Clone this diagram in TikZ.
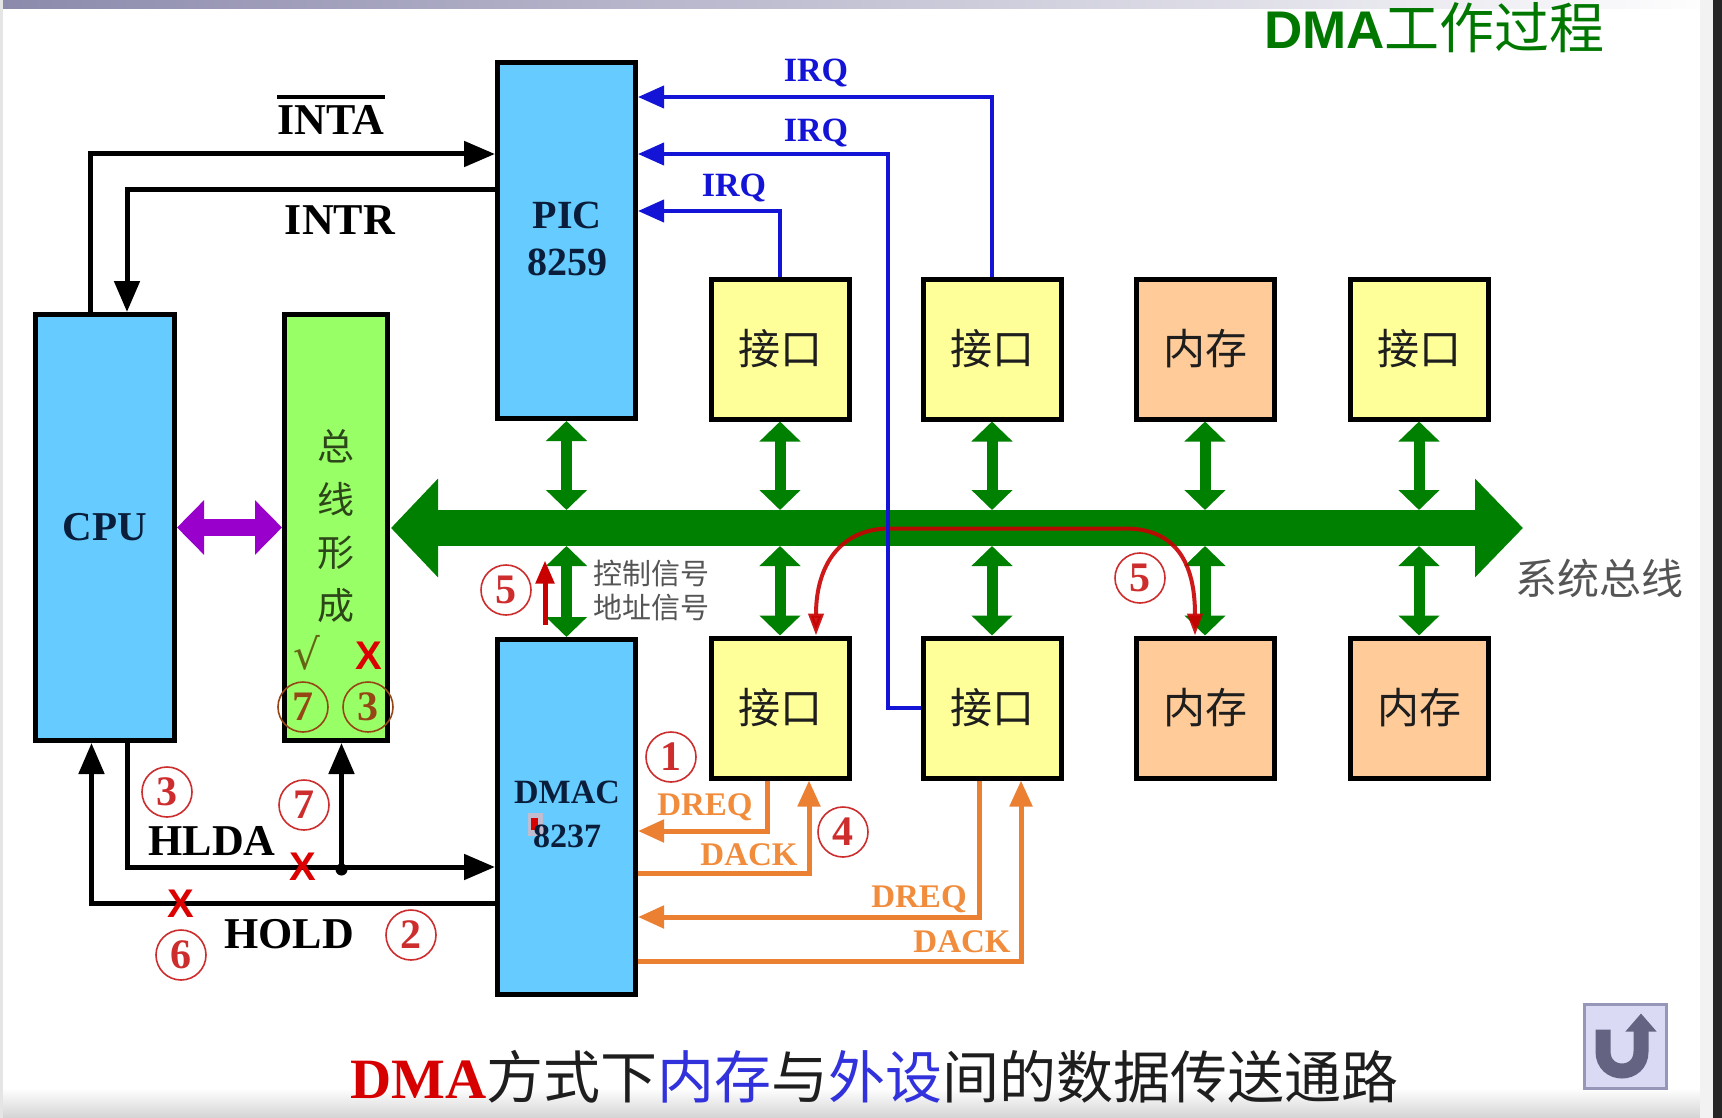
\documentclass[tikz,border=0pt]{standalone}
\usepackage{fontspec}
\setmainfont{Liberation Serif}
\newfontfamily\cjk{Noto Sans CJK SC}
\newfontfamily\sansf{Liberation Sans}
\newfontfamily\djv{DejaVu Sans}
\usetikzlibrary{arrows.meta,calc}
\newcommand\myfs[1]{\fontsize{#1}{#1}\selectfont}
\definecolor{boxblue}{RGB}{102,204,255}
\definecolor{boxgreen}{RGB}{153,255,102}
\definecolor{boxyellow}{RGB}{255,255,153}
\definecolor{boxpeach}{RGB}{255,204,153}
\definecolor{busgreen}{RGB}{0,128,0}
\definecolor{irqblue}{RGB}{20,20,215}
\definecolor{orangeline}{RGB}{236,128,50}
\definecolor{orangetext}{RGB}{240,140,60}
\definecolor{numred}{RGB}{205,45,45}
\definecolor{oliver}{RGB}{150,70,20}
\definecolor{olivechk}{RGB}{100,100,20}
\definecolor{purplearrow}{RGB}{153,0,204}
\definecolor{titlegreen}{RGB}{0,120,0}
\definecolor{navy}{RGB}{10,30,60}
\definecolor{grntext}{RGB}{45,70,25}
\definecolor{curvered}{RGB}{200,0,0}
\definecolor{xred}{RGB}{220,0,0}
\definecolor{capred}{RGB}{215,0,0}
\definecolor{capblue}{RGB}{50,50,220}
\definecolor{captext}{RGB}{30,30,30}
\definecolor{graytext}{RGB}{85,85,85}
\begin{document}
\begin{tikzpicture}[x=1pt,y=-1pt,
  bx/.style={draw=black, line width=5pt, inner sep=0pt},
  lbl/.style={inner sep=0pt, anchor=base},
  blk/.style={line width=5pt, draw=black, -{Triangle[length=31pt,width=25pt]}},
  blu/.style={line width=4pt, draw=irqblue, -{Triangle[length=26pt,width=22pt]}},
  org/.style={line width=5pt, draw=orangeline, -{Triangle[length=26pt,width=22pt]}},
  gar/.style={line width=11pt, draw=busgreen, {Triangle[length=20pt,width=40pt]}-{Triangle[length=20pt,width=40pt]}},
  cn/.style={circle, draw=numred, line width=1.6pt, text=numred, inner sep=0pt, minimum size=50pt, font=\bfseries\myfs{42}},
  xm/.style={inner sep=0pt, text=xred, font=\sansf\bfseries\myfs{40}},
  cjkbox/.style={bx, minimum width=138pt, minimum height=140pt, font=\cjk\myfs{42}, text=captext},
]
\useasboundingbox (0,0) rectangle (1722,1118);
% screen frame
\fill[white] (0,0) rectangle (1722,1118);
\shade[left color={rgb,255:red,140;green,138;blue,172}, right color=white] (0,0) rectangle (1722,9);
\shade[top color=white, bottom color={rgb,255:red,212;green,212;blue,212}] (0,1088) rectangle (1722,1118);
\fill[gray!20] (0,0) rectangle (3,1118);
\fill[gray!10] (1700,0) rectangle (1713,1118);
\fill[black!85] (1713,0) rectangle (1722,1118);

% title
\node[anchor=base west, inner sep=0pt, text=titlegreen, font=\cjk\myfs{55}] (title) at (1264,49) {{\sansf\bfseries\myfs{53}DMA}工作过程};

% boxes
\node[bx, fill=boxblue, minimum width=138pt, minimum height=356pt] (pic) at (566.5,240.5) {};
\node[bx, fill=boxblue, minimum width=139pt, minimum height=426pt] (cpu) at (105,527.5) {};
\node[bx, fill=boxgreen, minimum width=103pt, minimum height=426pt] (grn) at (336,527.5) {};
\node[bx, fill=boxblue, minimum width=138pt, minimum height=355pt] (dmac) at (566.5,817) {};
\node[cjkbox, fill=boxyellow] (t1) at (780,349) {接口};
\node[cjkbox, fill=boxyellow] (t2) at (992,349) {接口};
\node[cjkbox, fill=boxpeach] (t3) at (1205,349) {内存};
\node[cjkbox, fill=boxyellow] (t4) at (1419,349) {接口};
\node[cjkbox, fill=boxyellow] (b1) at (780,708) {接口};
\node[cjkbox, fill=boxyellow] (b2) at (992,708) {接口};
\node[cjkbox, fill=boxpeach] (b3) at (1205,708) {内存};
\node[cjkbox, fill=boxpeach] (b4) at (1419,708) {内存};

% box labels
\node[lbl, font=\bfseries\myfs{40}, text=navy] (piclbl) at (567,229) {PIC};
\node[lbl, font=\bfseries\myfs{40}, text=navy] (picnum) at (567,276) {8259};
\node[lbl, font=\bfseries\myfs{41}, text=navy] (cpulbl) at (105,540) {CPU};
\fill[red!30, opacity=0.6] (528,813) rectangle (543,836);
\fill[red!85!black] (531,818) rectangle (538,830);
\node[lbl, font=\bfseries\myfs{34}, text=navy] (dmaclbl) at (567,803) {DMAC};
\node[lbl, font=\bfseries\myfs{34}, text=navy] (dmacnum) at (567,847) {8237};
\node[inner sep=0pt, align=center, font=\cjk\fontsize{37}{53}\selectfont, text=grntext] (gtext) at (336,526) {总\\线\\形\\成};

% system bus
\coordinate (busL) at (391,528);
\coordinate (busR) at (1523,528);
\coordinate (busT) at (0,510);
\coordinate (busB) at (0,546);
\draw[busgreen, line width=36pt, {Triangle[length=47pt,width=96pt]}-{Triangle[length=48pt,width=96pt]}] (busL) -- (busR);
\node[font=\cjk\myfs{42}, text=graytext, inner sep=0pt] (buslbl) at (1599,578) {系统总线};

% bus taps
\draw[gar] (pic.south) -- (pic.south |- busT);
\draw[gar] (t1.south) -- (t1.south |- busT);
\draw[gar] (t2.south) -- (t2.south |- busT);
\draw[gar] (t3.south) -- (t3.south |- busT);
\draw[gar] (t4.south) -- (t4.south |- busT);
\draw[gar] (dmac.north |- busB) -- (dmac.north);
\draw[gar] (b1.north |- busB) -- (b1.north);
\draw[gar] (b2.north |- busB) -- (b2.north);
\draw[gar] (b3.north |- busB) -- (b3.north);
\draw[gar] (b4.north |- busB) -- (b4.north);
\node[inner sep=0pt, align=left, font=\cjk\fontsize{29}{34}\selectfont, text=graytext] (ctrl) at (651,591) {控制信号\\地址信号};

% CPU <-> bus former
\draw[line width=17pt, draw=purplearrow, {Triangle[length=27pt,width=53pt]}-{Triangle[length=27pt,width=53pt]}] (cpu.east) -- (grn.west);

% red data path
\draw[line width=4pt, draw=curvered, opacity=0.9, {Triangle[length=22pt,width=15pt]}-{Triangle[length=22pt,width=15pt]}]
  ($(b1.north)+(36,0)$) .. controls ($(b1.north)+(36,-70)$) and ($(b1.north)+(60,-107)$) .. ($(b1.north)+(110,-107)$)
  -- ($(b3.north)+(-80,-107)$) .. controls ($(b3.north)+(-35,-107)$) and ($(b3.north)+(-10,-80)$) .. ($(b3.north)+(-10,0)$);
\draw[line width=5pt, draw=curvered, -{Triangle[length=23pt,width=18pt]}] ($(dmac.north)+(-21.5,-12.5)$) -- ($(dmac.north)+(-21.5,-76.5)$);

% IRQ lines
\draw[blu] (t2.north) |- ($(pic.east)+(0,-143.5)$);
\draw[blu] (b2.west) -- ++(-33,0) |- ($(pic.east)+(0,-86.5)$);
\draw[blu] (t1.north) |- ($(pic.east)+(0,-29.5)$);
\node[lbl, font=\bfseries\myfs{34}, text=irqblue] (irq1) at (816,82) {IRQ};
\node[lbl, font=\bfseries\myfs{34}, text=irqblue] (irq2) at (816,142) {IRQ};
\node[lbl, font=\bfseries\myfs{34}, text=irqblue] (irq3) at (734,197) {IRQ};

% CPU / PIC / DMAC control lines
\draw[blk] ($(cpu.north)+(-14.5,0)$) |- ($(pic.west)+(0,-86.5)$);
\draw[blk] ($(pic.west)+(0,-50.5)$) -| ($(cpu.north)+(22,0)$);
\draw[blk] ($(cpu.south)+(22,0)$) |- ($(dmac.west)+(0,50)$);
\draw[blk] ($(dmac.west)+(0,86)$) -| ($(cpu.south)+(-13.5,0)$);
\coordinate (jn) at ($(grn.south)+(5.5,126.5)$);
\fill (jn) circle (6pt);
\draw[blk] (jn) -- (jn |- grn.south);
\node[lbl, font=\bfseries\myfs{44}] (inta) at (331,135) {INTA};
\draw[line width=4pt] ([yshift=9pt]inta.north west) -- ([yshift=9pt]inta.north east);
\node[lbl, font=\bfseries\myfs{44}] (intr) at (340,235) {INTR};
\node[lbl, font=\bfseries\myfs{44}] (hlda) at (212,855) {HLDA};
\node[lbl, font=\bfseries\myfs{44}] (hold) at (289,948) {HOLD};

% DREQ / DACK
\draw[org] ($(b1.south)+(-13,0)$) |- ($(dmac.east)+(0,14)$);
\draw[org] ($(dmac.east)+(0,56)$) -| ($(b1.south)+(29,0)$);
\draw[org] ($(b2.south)+(-13,0)$) |- ($(dmac.east)+(0,100)$);
\draw[org] ($(dmac.east)+(0,144)$) -| ($(b2.south)+(29,0)$);
\node[lbl, font=\bfseries\myfs{33}, text=orangetext] (dreq1) at (705,815) {DREQ};
\node[lbl, font=\bfseries\myfs{33}, text=orangetext] (dack1) at (749,865) {DACK};
\node[lbl, font=\bfseries\myfs{33}, text=orangetext] (dreq2) at (919,907) {DREQ};
\node[lbl, font=\bfseries\myfs{33}, text=orangetext] (dack2) at (962,952) {DACK};

% marks
\node[xm] (xa) at (303,867) {X};
\node[xm] (xb) at (181,904) {X};
\node[xm] (xc) at (369,656) {X};
\node[inner sep=0pt, text=olivechk, font=\djv\myfs{42}] (chk) at (307,653) {√};

% step numbers
\node[cn] (n1) at (671,757) {1};
\node[cn] (n2) at (411,935) {2};
\node[cn] (n3a) at (167,792) {3};
\node[cn, draw=oliver, text=oliver] (n3b) at (368,707) {3};
\node[cn] (n4) at (843,832) {4};
\node[cn] (n5a) at (506,590) {5};
\node[cn] (n5b) at (1140,578) {5};
\node[cn] (n6) at (181,955) {6};
\node[cn] (n7a) at (304,805) {7};
\node[cn, draw=oliver, text=oliver] (n7b) at (303,707) {7};

% caption
\node[anchor=base west, inner sep=0pt, font=\myfs{57}, text=captext] (cap) at (350,1098)
  {{\bfseries\color{capred}DMA}{\cjk 方式下\textcolor{capblue}{内存}与\textcolor{capblue}{外设}间的数据传送通路}};

% return icon
\node[draw={rgb,255:red,150;green,150;blue,185}, fill={rgb,255:red,218;green,218;blue,245}, line width=3pt, minimum width=82pt, minimum height=84pt, inner sep=0pt] (ret) at (1625.5,1046.5) {};
\draw[line width=15pt, draw={rgb,255:red,100;green,100;blue,130}, -{Triangle[length=18pt,width=30pt]}]
  ($(ret.center)+(-22.5,-17)$) -- ($(ret.center)+(-22.5,5)$) .. controls ($(ret.center)+(-22.5,31)$) and ($(ret.center)+(15.5,31)$) .. ($(ret.center)+(15.5,5)$) -- ($(ret.center)+(15.5,-33)$);
\end{tikzpicture}
\end{document}
